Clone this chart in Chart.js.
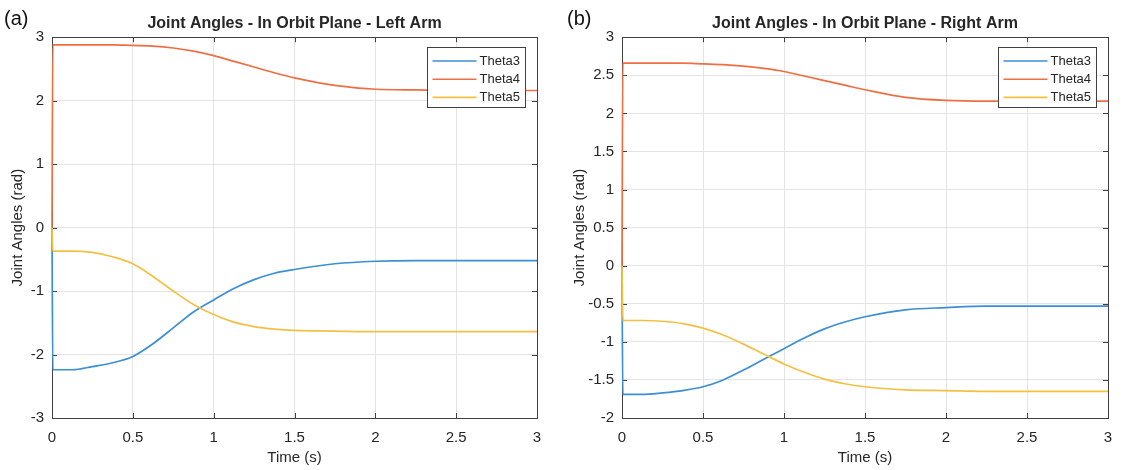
<!DOCTYPE html>
<html>
<head>
<meta charset="utf-8">
<title>Joint Angles - In Orbit Plane</title>
<script src="https://cdn.jsdelivr.net/npm/chart.js@4.4.1/dist/chart.umd.min.js"></script>
<style>
  html, body { margin: 0; padding: 0; background: #fff; }
  body { width: 1124px; height: 470px; position: relative; overflow: hidden; font-family: "Liberation Sans", Arial, sans-serif; }
  .panel { position: absolute; top: 0; width: 562px; height: 470px; }
  .tag { position: absolute; top: 6px; font-size: 20px; line-height: 24px; color: #111; }
</style>
</head>
<body>
<div class="panel" style="left:0"><canvas id="leftArm"></canvas></div>
<div class="panel" style="left:562px"><canvas id="rightArm"></canvas></div>
<div class="tag" style="left:4px">(a)</div>
<div class="tag" style="left:567px">(b)</div>

<script>
// sample times (s), the second sample sits just after the initial jump
var times = [0, 0.005, 0.125, 0.25, 0.375, 0.5, 0.625, 0.75, 0.875, 1, 1.125, 1.25, 1.375, 1.5, 1.75, 2, 2.25, 2.5, 2.75, 3];

// left arm (rad)
var leftTheta3 = [0, -2.24, -2.24, -2.19, -2.13, -2.03, -1.83, -1.58, -1.33, -1.14, -0.96, -0.82, -0.72, -0.66, -0.57, -0.53, -0.52, -0.52, -0.52, -0.52];
var leftTheta4 = [0, 2.88, 2.88, 2.88, 2.88, 2.87, 2.86, 2.83, 2.78, 2.71, 2.62, 2.53, 2.44, 2.36, 2.24, 2.18, 2.17, 2.16, 2.16, 2.16];
var leftTheta5 = [0, -0.37, -0.37, -0.39, -0.46, -0.57, -0.77, -1.00, -1.21, -1.37, -1.49, -1.56, -1.60, -1.62, -1.63, -1.64, -1.64, -1.64, -1.64, -1.64];

// right arm (rad)
var rightTheta3 = [0, -1.69, -1.69, -1.67, -1.64, -1.59, -1.50, -1.37, -1.23, -1.09, -0.95, -0.83, -0.74, -0.67, -0.58, -0.55, -0.53, -0.53, -0.53, -0.53];
var rightTheta4 = [0, 2.66, 2.66, 2.66, 2.66, 2.65, 2.64, 2.62, 2.59, 2.55, 2.49, 2.43, 2.37, 2.31, 2.21, 2.17, 2.16, 2.16, 2.16, 2.16];
var rightTheta5 = [0, -0.72, -0.72, -0.73, -0.76, -0.82, -0.91, -1.03, -1.16, -1.29, -1.40, -1.49, -1.55, -1.59, -1.63, -1.64, -1.65, -1.65, -1.65, -1.65];

var seriesNames = ["Theta3", "Theta4", "Theta5"];
var seriesColors = ["#3b8fd6", "#ef6f43", "#f4c043"];

var axisColor = "#404040";
var gridColor = "#e4e4e4";
var textColor = "#262626";
var fontFamily = "'Liberation Sans', Arial, sans-serif";

function points(values) {
    return values.map(function (v, i) { return { x: times[i], y: v }; });
}

function label(v) {
    return String(+v.toFixed(2));
}

// box round the plot with MATLAB style inward ticks on all four sides
var frameTicks = {
    id: 'frameTicks',
    beforeDatasetsDraw: function (chart) {
        var a = chart.chartArea;
        var ctx = chart.ctx;
        var len = 5;
        ctx.save();
        ctx.strokeStyle = axisColor;
        ctx.lineWidth = 1;
        ctx.beginPath();
        chart.scales.x.ticks.forEach(function (t) {
            var px = Math.round(chart.scales.x.getPixelForValue(t.value)) + 0.5;
            ctx.moveTo(px, a.bottom); ctx.lineTo(px, a.bottom - len);
            ctx.moveTo(px, a.top); ctx.lineTo(px, a.top + len);
        });
        chart.scales.y.ticks.forEach(function (t) {
            var py = Math.round(chart.scales.y.getPixelForValue(t.value)) + 0.5;
            ctx.moveTo(a.left, py); ctx.lineTo(a.left + len, py);
            ctx.moveTo(a.right, py); ctx.lineTo(a.right - len, py);
        });
        ctx.stroke();
        ctx.strokeRect(Math.round(a.left) + 0.5, Math.round(a.top) + 0.5, Math.round(a.right - a.left), Math.round(a.bottom - a.top));
        ctx.restore();
    }
};

// boxed legend in the upper right corner of the plot
var boxLegend = {
    id: 'boxLegend',
    afterDraw: function (chart) {
        var a = chart.chartArea;
        var ctx = chart.ctx;
        var w = 98, h = 60;
        var x0 = Math.round(a.right - 12 - w) + 0.5;
        var y0 = Math.round(a.top + 10) + 0.5;
        ctx.save();
        ctx.fillStyle = "#fff";
        ctx.fillRect(x0, y0, w, h);
        ctx.strokeStyle = axisColor;
        ctx.lineWidth = 1;
        ctx.strokeRect(x0, y0, w, h);
        ctx.font = "13px " + fontFamily;
        ctx.textBaseline = "middle";
        ctx.fillStyle = textColor;
        var rows = chart.data.datasets.slice().sort(function (p, q) { return seriesNames.indexOf(p.label) - seriesNames.indexOf(q.label); });
        rows.forEach(function (ds, i) {
            var y = y0 + 13.5 + i * 18.2;
            ctx.strokeStyle = ds.borderColor;
            ctx.lineWidth = 1.6;
            ctx.beginPath();
            ctx.moveTo(x0 + 5, y);
            ctx.lineTo(x0 + 49, y);
            ctx.stroke();
            ctx.fillText(ds.label, x0 + 52, y + 0.5);
        });
        ctx.restore();
    }
};

function makeChart(id, title, th3, th4, th5, yMin, yMax, yStep, yWidth, padRight) {
    var data = [th3, th4, th5];
    var datasets = seriesNames.map(function (name, i) {
        return {
            label: name,
            data: points(data[i]),
            borderColor: seriesColors[i],
            backgroundColor: seriesColors[i],
            borderWidth: 1.7,
            pointRadius: 0,
            fill: false,
            clip: 3,
            cubicInterpolationMode: 'monotone',
            order: 3 - i
        };
    });

    return new Chart(document.getElementById(id).getContext('2d'), {
        type: 'line',
        data: { datasets: datasets },
        plugins: [frameTicks, boxLegend],
        options: {
            responsive: true,
            maintainAspectRatio: false,
            animation: false,
            layout: { padding: { left: 0, right: padRight, top: 0, bottom: 0 } },
            plugins: {
                legend: { display: false },
                tooltip: { enabled: false },
                title: {
                    display: true,
                    fullSize: false,
                    text: title,
                    color: textColor,
                    font: { family: fontFamily, size: 16, weight: 'bold' },
                    padding: { top: 14, bottom: 4 }
                }
            },
            scales: {
                x: {
                    type: 'linear',
                    min: 0,
                    max: 3,
                    afterFit: function (s) { s.height = 52; },
                    ticks: {
                        stepSize: 0.5,
                        padding: 11,
                        color: textColor,
                        font: { family: fontFamily, size: 15 },
                        maxRotation: 0,
                        callback: label
                    },
                    grid: { color: gridColor, drawTicks: false },
                    border: { display: false },
                    title: {
                        display: true,
                        text: 'Time (s)',
                        color: textColor,
                        font: { family: fontFamily, size: 15 },
                        padding: { top: 0, bottom: 3 }
                    }
                },
                y: {
                    min: yMin,
                    max: yMax,
                    afterFit: function (s) { s.width = yWidth; },
                    ticks: {
                        stepSize: yStep,
                        padding: 8,
                        color: textColor,
                        font: { family: fontFamily, size: 15 },
                        callback: label
                    },
                    grid: { color: gridColor, drawTicks: false },
                    border: { display: false },
                    title: {
                        display: true,
                        text: 'Joint Angles (rad)',
                        color: textColor,
                        font: { family: fontFamily, size: 15 },
                        padding: { top: 9, bottom: 0 }
                    }
                }
            }
        }
    });
}

makeChart('leftArm', 'Joint Angles - In Orbit Plane - Left Arm', leftTheta3, leftTheta4, leftTheta5, -3, 3, 1, 52, 25);
makeChart('rightArm', 'Joint Angles - In Orbit Plane - Right Arm', rightTheta3, rightTheta4, rightTheta5, -2, 3, 0.5, 60, 16);
</script>
</body>
</html>
